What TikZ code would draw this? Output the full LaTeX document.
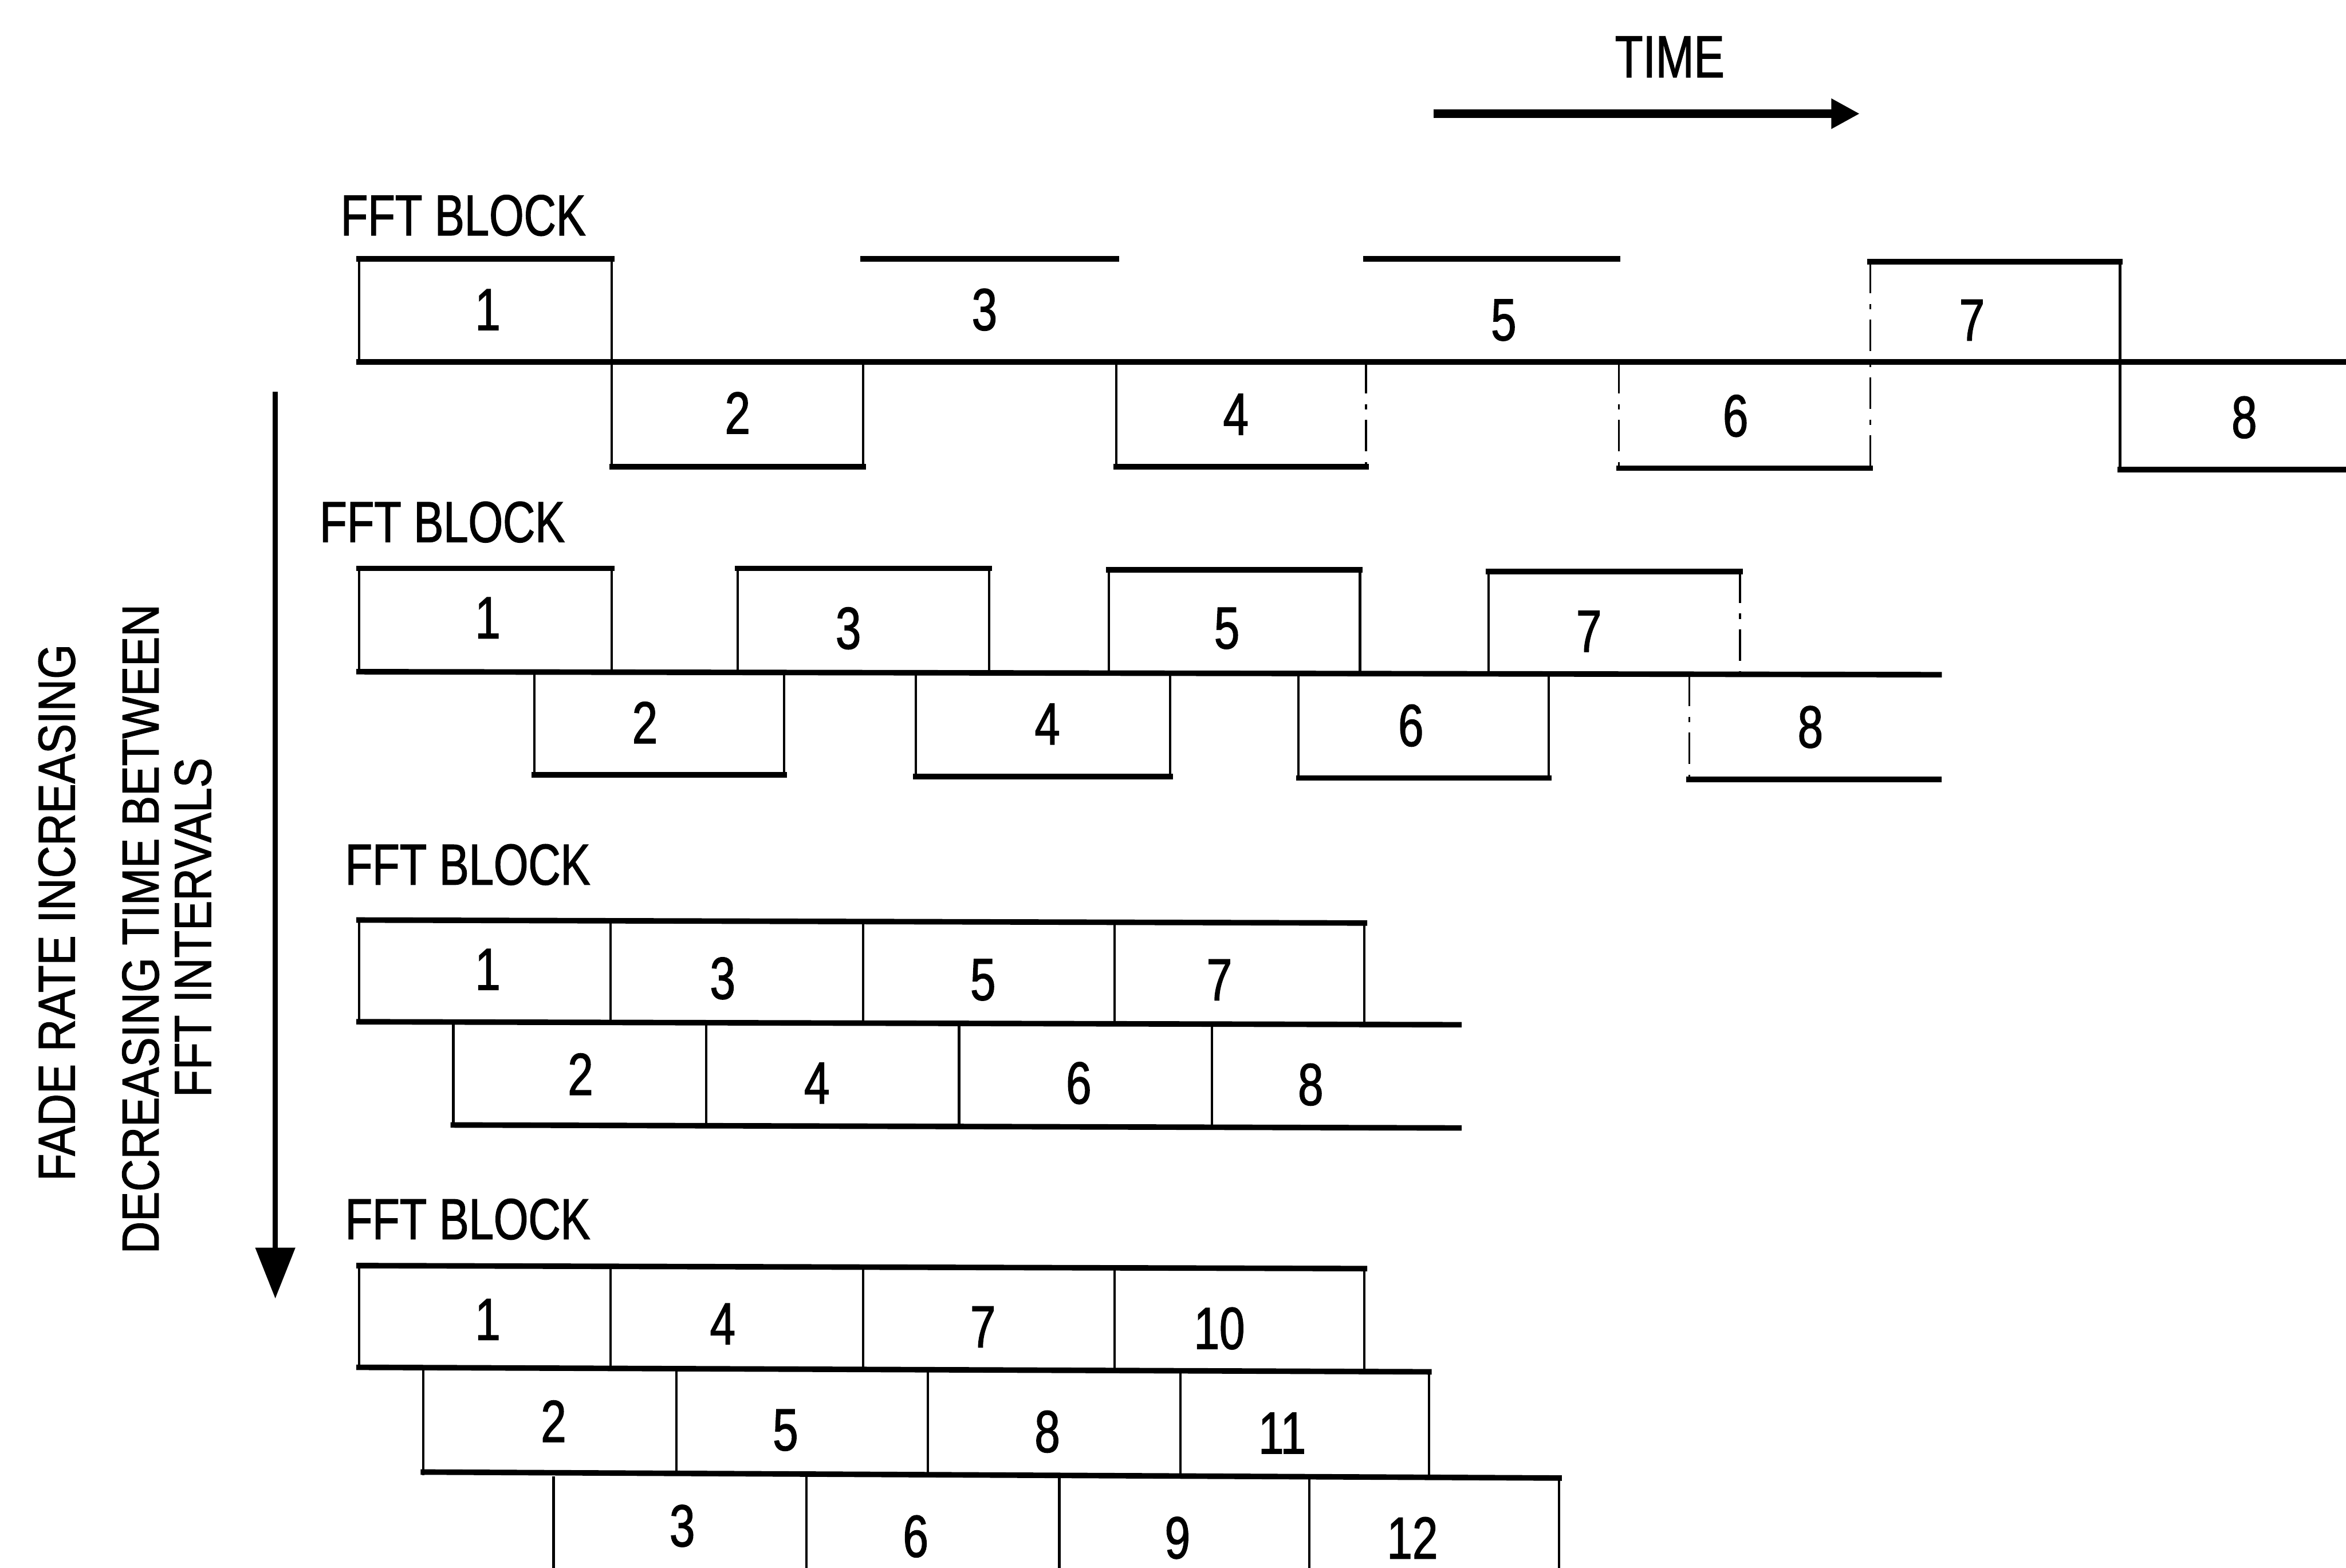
\documentclass[tikz,border=0pt]{standalone}
\usepackage{fontspec}
\setmainfont{Liberation Sans}
\newfontfamily\narrowfont[FakeStretch=0.77,FakeBold=1.3]{Liberation Sans}
\newfontfamily\sidefont[FakeStretch=0.86,FakeBold=1.3]{Liberation Sans}
\usetikzlibrary{arrows.meta}
\tikzset{
  hl/.style={line width=1.05pt, line cap=rect},
  vl/.style={line width=0.45pt},
  faint/.style={line width=0.35pt, dash pattern=on 6pt off 2pt on 1pt off 2pt},
  num/.style={font=\narrowfont\fontsize{11.3}{13}\selectfont, inner sep=0pt},
  lbl/.style={font=\narrowfont\fontsize{11}{13}\selectfont, inner sep=0pt, anchor=west},
  side/.style={font=\sidefont\fontsize{9.9}{12}\selectfont, inner sep=0pt, rotate=90}
}
\begin{document}
\begin{tikzpicture}[x=0.01cm,y=-0.01cm]
\useasboundingbox (0,0) rectangle (1568,1048);
\fill[white] (0,0) rectangle (1568,1048);

% ---------- TIME arrow ----------
\node[num] (time) at (1116,38) {TIME};
\coordinate (t0) at (958,76);
\coordinate (t1) at (1243,76);
\draw[line width=1.6pt, -{Triangle[length=0.19cm,width=0.19cm]}] (t0) -- (t1);

% ---------- fade-rate arrow ----------
\coordinate (f0) at (184,262);
\coordinate (f1) at (184,868);
\draw[line width=0.95pt, -{Triangle[length=0.34cm,width=0.26cm]}] (f0) -- (f1);
\node[side] (s1) at (38,610) {FADE RATE INCREASING};
\node[side] (s2) at (94,621) {DECREASING TIME BETWEEN};
\node[side] (s3) at (129,620) {FFT INTERVALS};

% ---------- Row 1 ----------
\node[lbl] (b1) at (227,144) {FFT BLOCK};
\draw[hl] (240,173) -- (409,173);
\draw[hl] (577,173) -- (746,173);
\draw[hl] (913,173) -- (1081,173);
\draw[hl] (1250,175) -- (1417,175);
\draw[hl] (240,242) -- (1568,242);
\draw[hl] (409,312) -- (577,312);
\draw[hl] (746,312) -- (913,312);
\draw[hl] (1082,313) -- (1250,313);
\draw[hl] (1417,314) -- (1568,314);
\draw[vl] (240,173) -- (240,242);
\draw[vl] (409,173) -- (409,312);
\draw[vl] (577,242) -- (577,312);
\draw[vl] (746,242) -- (746,312);
\draw[faint] (913,242) -- (913,312);
\draw[faint] (1082,242) -- (1082,313);
\draw[faint] (1250,175) -- (1250,313);
\draw[vl] (1417,175) -- (1417,314);
\node[num] (r1n1) at (326,207) {1};
\node[num] (r1n3) at (658,207) {3};
\node[num] (r1n5) at (1005,214) {5};
\node[num] (r1n7) at (1318,214) {7};
\node[num] (r1n2) at (493,276) {2};
\node[num] (r1n4) at (826,277) {4};
\node[num] (r1n6) at (1160,278) {6};
\node[num] (r1n8) at (1500,279) {8};

% ---------- Row 2 ----------
\node[lbl] (b2) at (213,349) {FFT BLOCK};
\draw[hl] (240,380) -- (409,380);
\draw[hl] (493,380) -- (661,380);
\draw[hl] (741,381) -- (909,381);
\draw[hl] (995,382) -- (1163,382);
\draw[hl] (240,449) -- (1296,451);
\draw[hl] (357,518) -- (524,518);
\draw[hl] (612,519) -- (782,519);
\draw[hl] (868,520) -- (1035,520);
\draw[hl] (1129,521) -- (1296,521);
\foreach \x in {240,409,493,661,741,909,995}
  \draw[vl] (\x,380) -- (\x,450);
\draw[faint] (1163,382) -- (1163,451);
\foreach \x in {357,524,612,782,868,1035}
  \draw[vl] (\x,450) -- (\x,519);
\draw[faint] (1129,451) -- (1129,521);
\node[num] (r2n1) at (326,413) {1};
\node[num] (r2n3) at (567,420) {3};
\node[num] (r2n5) at (820,420) {5};
\node[num] (r2n7) at (1062,422) {7};
\node[num] (r2n2) at (431,483) {2};
\node[num] (r2n4) at (700,484) {4};
\node[num] (r2n6) at (943,485) {6};
\node[num] (r2n8) at (1210,486) {8};

% ---------- Row 3 ----------
\node[lbl] (b3) at (230,578) {FFT BLOCK};
\draw[hl] (240,615) -- (912,617);
\draw[hl] (240,683) -- (975,685);
\draw[hl] (303,752) -- (975,754);
\foreach \x in {240,408,577,745,912}
  \draw[vl] (\x,616) -- (\x,684);
\foreach \x in {303,472,641,810}
  \draw[vl] (\x,684) -- (\x,753);
\node[num] (r3n1) at (326,648) {1};
\node[num] (r3n3) at (483,654) {3};
\node[num] (r3n5) at (657,655) {5};
\node[num] (r3n7) at (815,655) {7};
\node[num] (r3n2) at (388,718) {2};
\node[num] (r3n4) at (546,724) {4};
\node[num] (r3n6) at (721,724) {6};
\node[num] (r3n8) at (876,725) {8};

% ---------- Row 4 ----------
\node[lbl] (b4) at (230,815) {FFT BLOCK};
\draw[hl] (240,846) -- (912,848);
\draw[hl] (240,914) -- (955,917);
\draw[hl] (283,984) -- (1042,988);
\foreach \x in {240,408,577,745,912}
  \draw[vl] (\x,847) -- (\x,915);
\foreach \x in {283,452,620,789,955}
  \draw[vl] (\x,916) -- (\x,986);
\foreach \x in {370,539,708,875,1042}
  \draw[vl] (\x,987) -- (\x,1060);
\node[num] (r4n1) at (326,882) {1};
\node[num] (r4n4) at (483,885) {4};
\node[num] (r4n7) at (657,887) {7};
\node[num] (r4n10) at (815,888) {10};
\node[num] (r4n2) at (370,950) {2};
\node[num] (r4n5) at (525,956) {5};
\node[num] (r4n8) at (700,957) {8};
\node[num] (r4n11) at (857,958) {11};
\node[num] (r4n3) at (456,1020) {3};
\node[num] (r4n6) at (612,1027) {6};
\node[num] (r4n9) at (787,1028) {9};
\node[num] (r4n12) at (944,1028) {12};
\end{tikzpicture}
\end{document}
